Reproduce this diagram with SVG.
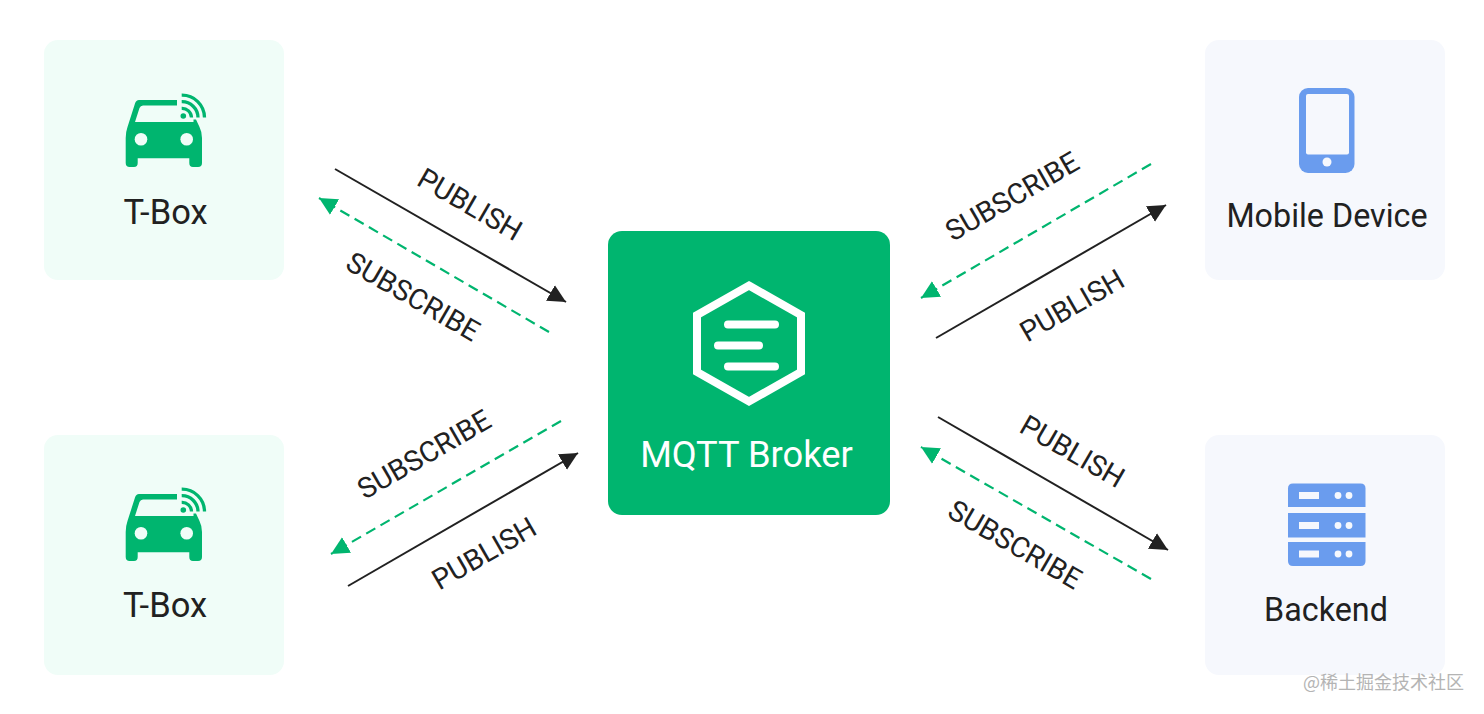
<svg xmlns="http://www.w3.org/2000/svg" width="1484" height="714" viewBox="0 0 1484 714">
<style>
text{font-family:Roboto,"Liberation Sans",sans-serif;fill:#212121}
.lbl{font-size:32.300px;text-anchor:middle}
.tb{font-size:34.500px;text-anchor:middle}
.edge{font-size:28.600px;text-anchor:middle}
.pub{stroke:#212121;stroke-width:2;fill:none;marker-end:url(#ah)}
.sub{stroke:#00b56f;stroke-width:2.200;fill:none;stroke-dasharray:10.500 6;marker-end:url(#ag)}
.g{fill:#00b56f}
.b{fill:#6a9cee}
</style>
<defs>
<marker id="ah" markerUnits="userSpaceOnUse" markerWidth="20" markerHeight="20" refX="18" refY="10" orient="auto"><path d="M0 1L18 10L0 19Z" fill="#212121"/></marker>
<marker id="ag" markerUnits="userSpaceOnUse" markerWidth="20" markerHeight="20" refX="18" refY="10" orient="auto"><path d="M0 1L18 10L0 19Z" fill="#00b56f"/></marker>
<g id="car">
<path class="g" d="M139 100H177V105.500H143Q140.500 105.500 139.500 108L135 122H193.500V119.500H196L199.500 127Q202 132 202 138V163Q202 167 198 167H193Q189.300 167 189.300 163V158.300H137.700V163Q137.700 167 134 167H129.700Q125.700 167 125.700 163V138Q125.700 132 127.500 127L135 103.500Q136 100 139 100Z"/>
<circle cx="141" cy="139.300" r="6.300" fill="#f0fdf8"/>
<circle cx="186.700" cy="139.300" r="6.300" fill="#f0fdf8"/>
<circle cx="183.300" cy="116" r="2.800" class="g"/>
<g fill="none" stroke="#00b56f" stroke-width="3.300">
<path d="M181.700 108.300A9.500 9.500 0 0 1 191.500 117.500"/>
<path d="M181.700 101.700A16 16 0 0 1 198 117.500"/>
<path d="M181.700 95.200A22.500 22.500 0 0 1 204.500 117.500"/>
</g>
</g>
</defs>
<rect width="1484" height="714" fill="#fff"/>
<g id="tbox1"><rect x="44" y="40" width="240" height="240" rx="14" fill="#f0fdf8"/><use href="#car"/><text class="tb" x="165.500" y="224">T-Box</text></g>
<g id="tbox2"><rect x="44" y="435" width="240" height="240" rx="14" fill="#f0fdf8"/><use href="#car" y="394"/><text class="tb" x="165" y="617">T-Box</text></g>
<g id="mobile"><rect x="1205" y="40" width="240" height="240" rx="14" fill="#f6f8fd"/>
<rect x="1299" y="88" width="55.500" height="85" rx="9" class="b"/><rect x="1306" y="94" width="43" height="60.500" rx="2" fill="#f6f8fd"/><circle cx="1327" cy="162" r="4.500" fill="#f6f8fd"/>
<text class="lbl" x="1327" y="226.500">Mobile Device</text></g>
<g id="backend"><rect x="1205" y="435" width="240" height="240" rx="14" fill="#f6f8fd"/>
<path class="b" d="M1293 483.500H1360.500Q1365.500 483.500 1365.500 488.500V507H1288V488.500Q1288 483.500 1293 483.500Z"/>
<rect x="1288" y="513" width="77.500" height="24.500" class="b"/>
<path class="b" d="M1288 542H1365.500V561Q1365.500 566 1360.500 566H1293Q1288 566 1288 561Z"/>
<g fill="#f6f8fd"><rect x="1299" y="492" width="20" height="7"/><circle cx="1338" cy="495.500" r="3.400"/><circle cx="1349" cy="495.500" r="3.400"/>
<rect x="1299" y="522" width="20" height="7"/><circle cx="1338" cy="525.500" r="3.400"/><circle cx="1349" cy="525.500" r="3.400"/>
<rect x="1299" y="550.500" width="20" height="7"/><circle cx="1338" cy="554" r="3.400"/><circle cx="1349" cy="554" r="3.400"/></g>
<text class="lbl" x="1326" y="620.500">Backend</text></g>
<g id="broker"><rect x="608" y="231" width="282" height="284" rx="14" fill="#00b56f"/>
<path d="M749 285.600L801 315V372L749 401.400L697 372V315Z" fill="none" stroke="#fff" stroke-width="8"/>
<g stroke="#fff" stroke-width="8" stroke-linecap="round"><path d="M728 324.500H775M718 345.500H759M728 366.500H775"/></g>
<text x="746.500" y="467" font-size="36.300" text-anchor="middle" style="fill:#fff">MQTT Broker</text></g>
<g id="connectors">
<path class="pub" d="M335 169L566 302"/>
<path class="sub" d="M549 332L319 198"/>
<path class="sub" d="M561 421L331 554"/>
<path class="pub" d="M348 586L578 453"/>
<path class="sub" d="M1151 164L921 298"/>
<path class="pub" d="M936 338L1166 205"/>
<path class="pub" d="M938 417L1168 550"/>
<path class="sub" d="M1151 579L921 447"/>
</g>
<g id="edge-labels">
<text class="edge" transform="translate(465 213) rotate(30)">PUBLISH</text>
<text class="edge" transform="translate(408 305) rotate(30)">SUBSCRIBE</text>
<text class="edge" transform="translate(429 463) rotate(-30)">SUBSCRIBE</text>
<text class="edge" transform="translate(489 562) rotate(-30)">PUBLISH</text>
<text class="edge" transform="translate(1017 205) rotate(-30)">SUBSCRIBE</text>
<text class="edge" transform="translate(1077 314) rotate(-30)">PUBLISH</text>
<text class="edge" transform="translate(1067.500 460) rotate(30)">PUBLISH</text>
<text class="edge" transform="translate(1010 553) rotate(30)">SUBSCRIBE</text>
</g>
<text id="watermark" x="1303" y="689" font-size="18" style="font-family:'Noto Sans CJK SC',sans-serif;fill:#b4b4b4">@稀土掘金技术社区</text>
</svg>
